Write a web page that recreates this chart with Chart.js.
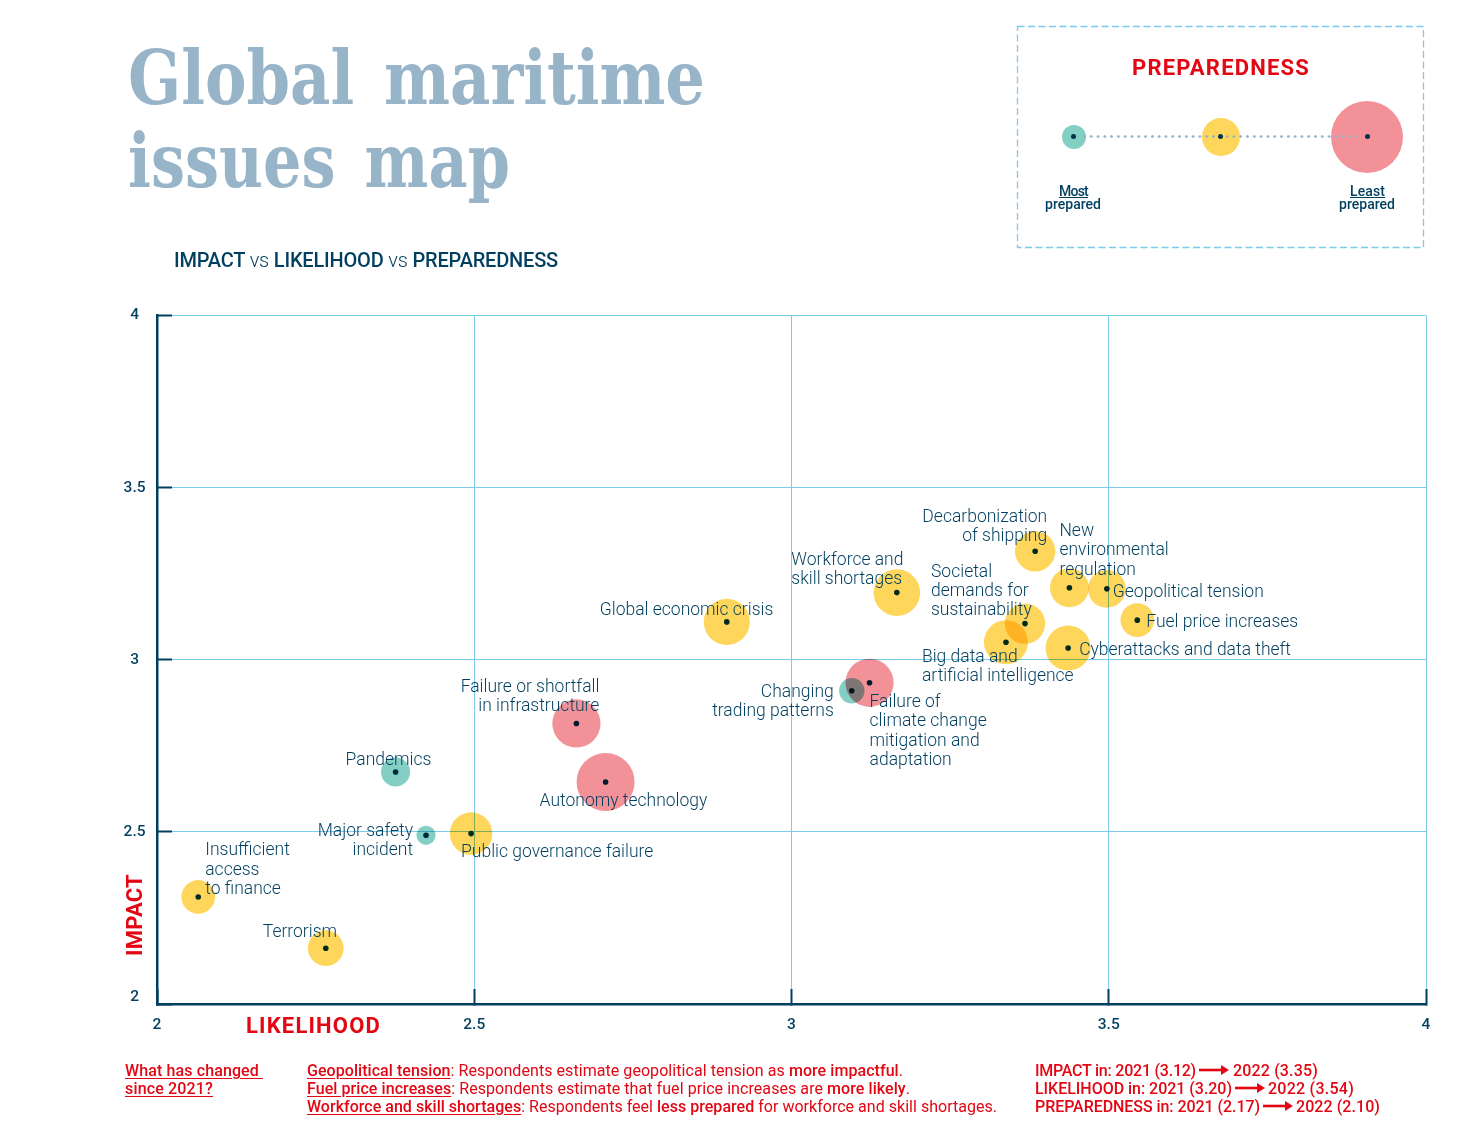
<!DOCTYPE html>
<html><head><meta charset="utf-8">
<script src="https://cdn.jsdelivr.net/npm/chart.js@4"></script>
<style>
html,body{margin:0;padding:0;background:#fff;width:1480px;height:1134px;overflow:hidden}
#c{position:absolute;left:0;top:0}
.t{position:absolute;white-space:pre;line-height:20px;font-family:Roboto,sans-serif;color:#e30613}
.foot{font-size:16px;font-weight:400}
.foot b{font-weight:500}
.foot u,.foot b{text-underline-offset:2px}
.navy{color:#003f5f}
.title{font-family:"DejaVu Serif",serif;font-weight:700;font-size:75px;line-height:90px;word-spacing:10px;color:#97b4c8;transform-origin:0 50%}
.dot{position:absolute;border-radius:50%}
</style></head><body>
<canvas id="c" width="1480" height="1134"></canvas>

<div class="t title" data-s="577" style="left:128px;top:33px">Global maritime</div>
<div class="t title" data-s="382" style="left:128px;top:116px">issues map</div>
<div class="t navy" data-w="384" style="left:174px;top:250px;font-size:20px;font-weight:500">IMPACT <span style="font-weight:300">vs</span> LIKELIHOOD <span style="font-weight:300">vs</span> PREPAREDNESS</div>

<svg style="position:absolute;left:1015px;top:24px" width="412" height="226" fill="none"><rect x="2.5" y="2.5" width="406" height="221" stroke="#7ccbec" stroke-width="1.3" stroke-dasharray="7 3.5"/></svg>
<div class="t" data-w="178" style="left:1132px;top:58px;font-size:22px;font-weight:700">PREPAREDNESS</div>
<div class="dot" style="left:1061.5px;top:124.5px;width:24px;height:24px;background:#84cfc4"></div>
<div class="dot" style="left:1201.5px;top:117.5px;width:38px;height:38px;background:#ffd65c"></div>
<div class="dot" style="left:1331px;top:100.5px;width:72px;height:72px;background:#f39198"></div>
<div style="position:absolute;left:1081px;top:135px;width:279px;height:3px;background:radial-gradient(circle,#93b3c8 1.1px,transparent 1.5px) 0 0/6.8px 3px repeat-x"></div>
<div class="dot" style="left:1071px;top:134px;width:5.4px;height:5.4px;background:#00334e"></div>
<div class="dot" style="left:1218px;top:134px;width:5.4px;height:5.4px;background:#00334e"></div>
<div class="dot" style="left:1364.5px;top:134px;width:5.4px;height:5.4px;background:#00334e"></div>
<div class="t navy" data-w="29" style="left:1059px;top:181px;font-size:14px;font-weight:500;text-decoration:underline">Most</div>
<div class="t navy" data-w="56" style="left:1045px;top:194px;font-size:14px;font-weight:500">prepared</div>
<div class="t navy" data-w="35" style="left:1350px;top:181px;font-size:14px;font-weight:500;text-decoration:underline">Least</div>
<div class="t navy" data-w="56" style="left:1339px;top:194px;font-size:14px;font-weight:500">prepared</div>

<div class="t" data-w="135" style="left:246px;top:1016px;font-size:22px;font-weight:700">LIKELIHOOD</div>
<div class="t" id="impact" data-w="82" style="left:135px;top:915px;font-size:22px;font-weight:700">IMPACT</div>

<div class="t foot" data-w="138" style="left:125px;top:1061px"><b><u>What has changed </u></b></div>
<div class="t foot" data-w="88" style="left:125px;top:1079px"><b><u>since 2021?</u></b></div>
<div class="t foot" data-w="596" style="left:307px;top:1061px"><b><u>Geopolitical tension</u></b>: Respondents estimate geopolitical tension as <b>more impactful</b>.</div>
<div class="t foot" data-w="603" style="left:307px;top:1079px"><b><u>Fuel price increases</u></b>: Respondents estimate that fuel price increases are <b>more likely</b>.</div>
<div class="t foot" data-w="690" style="left:307px;top:1097px"><b><u>Workforce and skill shortages</u></b>: Respondents feel <b>less prepared</b> for workforce and skill shortages.</div>
<div class="t foot" data-w="161" style="left:1035px;top:1061px"><b>IMPACT in: 2021 (3.12)</b></div>
<div class="t foot" data-w="85" style="left:1233px;top:1061px"><b>2022 (3.35)</b></div>
<div class="t foot" data-w="197" style="left:1035px;top:1079px"><b>LIKELIHOOD in: 2021 (3.20)</b></div>
<div class="t foot" data-w="86" style="left:1268px;top:1079px"><b>2022 (3.54)</b></div>
<div class="t foot" data-w="225" style="left:1035px;top:1097px"><b>PREPAREDNESS in: 2021 (2.17)</b></div>
<div class="t foot" data-w="84" style="left:1296px;top:1097px"><b>2022 (2.10)</b></div>
<svg style="position:absolute;left:0;top:0" width="1480" height="1134" fill="#e30613" stroke="#e30613">
 <g stroke-width="2.6"><path d="M1199 1070H1222"/><path d="M1235 1088H1258"/><path d="M1263 1106H1286"/></g>
 <g stroke="none"><path d="M1221 1065L1229 1070L1221 1075Z"/><path d="M1257 1083L1265 1088L1257 1093Z"/><path d="M1285 1101L1293 1106L1285 1111Z"/></g>
</svg>

<script>
const categories=["Decarbonization\nof shipping","New\nenvironmental\nregulation","Workforce and\nskill shortages","Societal\ndemands for\nsustainability","Geopolitical tension","Fuel price increases","Cyberattacks and data theft","Big data and\nartificial intelligence","Global economic crisis","Failure or shortfall\nin infrastructure","Changing\ntrading patterns","Failure of\nclimate change\nmitigation and\nadaptation","Pandemics","Major safety\nincident","Public governance failure","Autonomy technology","Insufficient\naccess\nto finance","Terrorism"];
const likelihood=[3.384,3.438,3.166,3.368,3.497,3.545,3.436,3.338,2.898,2.661,3.095,3.123,2.376,2.424,2.495,2.707,2.065,2.266];
const impact=[3.315,3.209,3.195,3.105,3.206,3.115,3.034,3.051,3.110,2.815,2.910,2.933,2.674,2.490,2.495,2.645,2.311,2.162];
const preparedness=[2.22,2.25,2.10,2.22,2.27,2.35,2.13,2.15,2.11,2.07,2.51,2.07,2.44,2.63,2.18,1.88,2.35,2.31];
const tiers=["mid","mid","mid","mid","mid","mid","mid","mid","mid","low","high","low","high","high","mid","low","mid","mid"];
const tickValues=[2,2.5,3,3.5,4];

// label placement relative to each point: [dx, dy, align]
const labelPlacement=[[12,-36,"right"],[-10,-58,"left"],[-105.5,-34,"left"],[-94,-53,"left"],[6,2,"left"],[9,0,"left"],[11,1,"left"],[-84,13,"left"],[-127,-13,"left"],[23,-38,"right"],[-18,0,"right"],[0,18,"left"],[-50,-13,"left"],[-13,-6,"right"],[-10,17,"left"],[-66,18,"left"],[7,-48,"left"],[-63,-18,"left"]];

const NAVY="#003f5f",GRID="#7ccbec";
const radius=p=>(3-p)*25.9;
const pts=i=>({x:likelihood[i],y:impact[i],r:radius(preparedness[i])});
const tierData=k=>categories.map((_,i)=>i).filter(i=>tiers[i]===k).map(pts);

const multiply={id:"multiply",
 beforeDraw(ch){const c=ch.ctx;c.save();c.fillStyle="#fff";c.fillRect(0,0,ch.width,ch.height);c.restore();
  ch.scales.y.getLabelItems(ch.chartArea).forEach(it=>{if(it.label==="2"&&!it._moved){it.options.translation[1]-=7;it._moved=true;}});},
 beforeDatasetDraw(ch){ch.ctx.save();ch.ctx.globalCompositeOperation="multiply";},
 afterDatasetDraw(ch){ch.ctx.restore();}
};
const labels={id:"labels",afterDatasetsDraw(ch){
 const c=ch.ctx,X=ch.scales.x,Y=ch.scales.y;c.save();
 c.font='300 17.5px Roboto, sans-serif';c.fillStyle=NAVY;c.textBaseline="middle";
 categories.forEach((t,i)=>{const[dx,dy,al]=labelPlacement[i];c.textAlign=al;
  t.split("\n").forEach((ln,j)=>c.fillText(ln,X.getPixelForValue(likelihood[i])+dx,Y.getPixelForValue(impact[i])+dy+2+j*19.2));});
 c.restore();}};

const tickLabel=v=>String(v);
const axis=(extra)=>Object.assign({type:"linear",min:2,max:4,
 afterBuildTicks(s){s.ticks=tickValues.map(v=>({value:v}));},
 grid:{color:GRID,lineWidth:1,tickColor:NAVY,tickWidth:2,tickLength:-15},
 border:{color:NAVY,width:2.5}},extra);
const tickFont={family:"Roboto",size:15.5,weight:"500"};

new Chart(document.getElementById("c"),{type:"bubble",
 data:{datasets:[
  {label:"points",data:categories.map((_,i)=>({x:likelihood[i],y:impact[i],r:2.8})),backgroundColor:"#00334e",borderWidth:0},
  {label:"Least prepared",data:tierData("low"),backgroundColor:"#f39198",borderWidth:0},
  {label:"Moderately prepared",data:tierData("mid"),backgroundColor:"#ffd65c",borderWidth:0},
  {label:"Most prepared",data:tierData("high"),backgroundColor:"#84cfc4",borderWidth:0}
 ]},
 plugins:[multiply,labels],
 options:{responsive:false,animation:false,devicePixelRatio:1,
  layout:{padding:{left:107,top:315.5,right:54,bottom:90}},
  plugins:{legend:{display:false},tooltip:{enabled:false}},
  clip:false,
  scales:{
   x:axis({afterFit(s){s.height=40;},ticks:{callback:tickLabel,padding:27,color:NAVY,font:tickFont,maxRotation:0,autoSkip:false}}),
   y:axis({afterFit(s){s.width=50;},ticks:{callback:tickLabel,padding:26.5,crossAlign:"center",color:NAVY,font:tickFont,autoSkip:false}})
  }}});

// fit text lines to their measured extents
document.querySelectorAll("[data-w]").forEach(e=>{
 const m=e.getBoundingClientRect().width,n=e.textContent.length;
 e.style.letterSpacing=((+e.dataset.w-m)/n)+"px";});
document.querySelectorAll("[data-s]").forEach(e=>{
 const m=e.getBoundingClientRect().width;e.style.transform="scaleX("+(+e.dataset.s/m)+")";});
document.getElementById("impact").style.transform="translate(-50%,-50%) rotate(-90deg)";
</script>
</body></html>
